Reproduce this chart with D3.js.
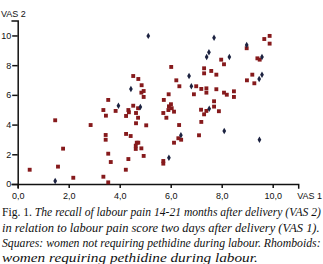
<!DOCTYPE html>
<html>
<head>
<meta charset="utf-8">
<script src="https://cdn.jsdelivr.net/npm/d3@7"></script>
<style>
	body {
		margin: 0;
		background: #fff;
	}
	.tick text {
		font-family: 'Liberation Sans', Arial, sans-serif;
		font-size: 9px;
		fill: #111;
	}
	.axis path,
	.axis line {
		stroke: #111;
		stroke-width: 1.5;
	}
	.caption {
		font-family: 'Liberation Serif', 'Times New Roman', serif;
		font-size: 12px;
		fill: #111;
	}
</style>
</head>
<body>
<svg id="chart" width="323" height="264"></svg>
<script>
// VAS 1 (two days after delivery) / VAS 2 (14-21 months after)
// squares: women not requiring pethidine
const squaresVas1 = [
	1.47, 2.86, 1.78, 0.47, 1.58, 2.18, 3.36, 3.55, 6.02, 4.53,
	4.73, 6.22, 4.86, 6.34, 7.0, 4.94, 4.85, 6.91, 4.94, 5.92,
	3.55, 5.73, 4.53, 4.72, 5.93, 6.01, 6.04, 3.36, 3.46, 3.84,
	4.34, 4.36, 4.64, 4.25, 4.72, 4.64, 5.04, 5.71, 5.91, 6.13,
	5.83, 6.33, 7.11, 3.45, 3.45, 4.25, 4.43, 4.67, 4.73, 4.63,
	4.63, 4.85, 4.94, 3.55, 3.65, 4.34, 4.24, 6.3, 6.41, 6.13,
	5.71, 5.71, 9.67, 9.88, 9.88, 8.98, 7.98, 8.09, 9.4, 9.49,
	7.31, 7.31, 7.59, 7.79, 9.2, 8.99, 9.28, 7.2, 7.4, 7.4,
	7.79, 8.09, 8.2, 8.48, 8.48, 7.7, 7.7, 7.19, 7.4, 7.31,
	7.89, 7.2
]
const squaresVas2 = [
	4.29, 3.97, 2.38, 0.96, 1.17, 0.42, 0.49, 0.11, 7.88, 7.27,
	7.07, 6.98, 6.65, 6.58, 6.58, 6.26, 6.15, 6.04, 5.86, 6.04,
	5.66, 5.66, 5.27, 5.1, 5.23, 5.37, 5.1, 4.98, 4.6, 4.92,
	4.98, 4.83, 4.78, 4.58, 4.46, 4.09, 3.95, 4.78, 4.98, 4.87,
	4.46, 3.97, 3.28, 3.3, 2.98, 3.37, 3.23, 2.78, 2.78, 2.58,
	2.36, 2.4, 1.89, 2.04, 1.48, 1.68, 0.96, 3.08, 2.98, 2.78,
	1.55, 1.37, 9.76, 9.97, 9.45, 9.14, 8.37, 8.06, 8.46, 8.37,
	7.79, 7.45, 7.61, 7.36, 7.36, 6.98, 6.78, 6.4, 6.44, 6.15,
	6.38, 6.15, 6.01, 6.24, 5.86, 5.57, 5.21, 5.0, 4.92, 4.69,
	4.9, 4.18
]
// rhomboids: women requiring pethidine
const rhombVas1 = [
	1.47, 5.12, 6.72, 6.81, 4.44, 3.95, 4.81, 6.4, 5.93, 7.7,
	8.98, 7.5, 7.41, 8.3, 9.58, 9.58, 9.47, 7.51, 8.1, 9.48
]
const rhombVas2 = [
	0.2, 9.97, 7.27, 6.58, 6.4, 5.27, 5.19, 3.28, 1.77, 9.85,
	9.36, 8.87, 8.55, 8.55, 8.55, 7.36, 7.07, 5.07, 3.57, 2.98
]

const xTicks = [0, 2, 4, 6, 8, 10]
const yTicks = [0, 2, 4, 6, 8, 10]

const captionLines = [
	['Fig. 1. ', 'The recall of labour pain 14-21 months after delivery (VAS 2)'],
	['', 'in relation to labour pain score two days after delivery (VAS 1).'],
	['', 'Squares: women not requiring pethidine during labour. Rhomboids:'],
	['', 'women requiring pethidine during labour.']
]

const red = '#861a1c'
const navy = '#1c2240'

const svg = d3.select('#chart')

const x = d3.scaleLinear().domain([0, 11]).range([17.7, 298.2])
const y = d3.scaleLinear().domain([0, 11]).range([184, 20.6])

const comma = d3.formatLocale({ decimal: ',', thousands: '.', grouping: [3], currency: ['', ''] })

svg.append('g')
	.attr('class', 'axis')
	.attr('transform', `translate(0,${y(0)})`)
	.call(d3.axisBottom(x)
		.tickValues(xTicks)
		.tickFormat(comma.format('.1f'))
		.tickSizeOuter(0)
		.tickSize(4)
		.tickPadding(4.5))

svg.append('g')
	.attr('class', 'axis')
	.attr('transform', `translate(${x(0)},0)`)
	.call(d3.axisLeft(y)
		.tickValues(yTicks)
		.tickFormat(d3.format('d'))
		.tickSizeOuter(0)
		.tickSize(5.5)
		.tickPadding(1))

svg.selectAll('.domain').attr('stroke-linecap', 'square')

svg.append('text')
	.attr('x', 1)
	.attr('y', 17)
	.attr('font-family', 'Liberation Sans, Arial, sans-serif')
	.attr('font-size', 9)
	.attr('fill', '#111')
	.text('VAS 2')

svg.append('text')
	.attr('x', 322)
	.attr('y', 199)
	.attr('text-anchor', 'end')
	.attr('font-family', 'Liberation Sans, Arial, sans-serif')
	.attr('font-size', 9)
	.attr('fill', '#111')
	.text('VAS 1')

const squares = squaresVas1.map((v, i) => ({ v1: v, v2: squaresVas2[i] }))
const rhombs = rhombVas1.map((v, i) => ({ v1: v, v2: rhombVas2[i] }))

svg.append('g')
	.selectAll('path')
	.data(squares)
	.enter()
	.append('path')
	.attr('d', d3.symbol(d3.symbolSquare, 15))
	.attr('transform', d => `translate(${x(d.v1)},${y(d.v2)})`)
	.attr('fill', red)

svg.append('g')
	.selectAll('path')
	.data(rhombs)
	.enter()
	.append('path')
	.attr('d', d3.symbol(d3.symbolDiamond, 12))
	.attr('transform', d => `translate(${x(d.v1)},${y(d.v2)})`)
	.attr('fill', navy)

// caption: scale each line horizontally to the printed width
const lineWidths = [319, 318, 319, 256]
const baselines = [216, 231.5, 247, 261.5]

captionLines.forEach((line, i) => {
	const t = svg.append('text')
		.attr('class', 'caption')
		.attr('x', 0)
		.attr('y', 0)
	if (line[0]) t.append('tspan').text(line[0])
	t.append('tspan').attr('font-style', 'italic').text(line[1])
	const w = t.node().getComputedTextLength()
	t.attr('transform', `translate(2,${baselines[i]}) scale(${lineWidths[i] / w},1)`)
})
</script>
</body>
</html>
